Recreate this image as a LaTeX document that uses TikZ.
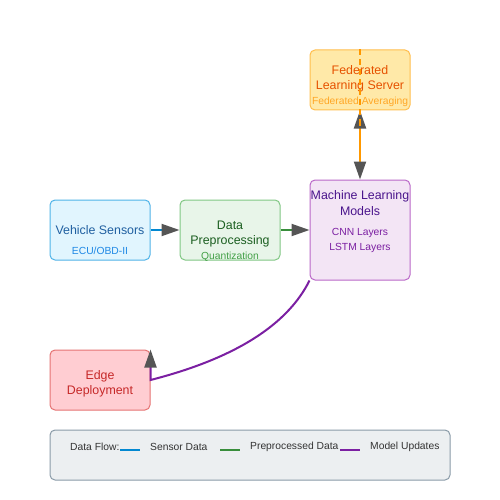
\documentclass[tikz,border=0pt]{standalone}
\usepackage{fontspec}
\setmainfont{Liberation Sans}
\usetikzlibrary{arrows.meta}
\definecolor{sensorFill}{HTML}{E1F5FE}
\definecolor{sensorLine}{HTML}{4FB3E8}
\definecolor{sensorText}{HTML}{1F5FA0}
\definecolor{sensorSub}{HTML}{1E88E5}
\definecolor{prepFill}{HTML}{E8F5E9}
\definecolor{prepLine}{HTML}{81C784}
\definecolor{prepText}{HTML}{1B5E20}
\definecolor{prepSub}{HTML}{43A047}
\definecolor{modelFill}{HTML}{F3E5F5}
\definecolor{modelLine}{HTML}{BA68C8}
\definecolor{modelText}{HTML}{4A148C}
\definecolor{modelSub}{HTML}{7B1FA2}
\definecolor{serverFill}{HTML}{FFE9A8}
\definecolor{serverLine}{HTML}{FFBE4D}
\definecolor{serverText}{HTML}{E65100}
\definecolor{serverSub}{HTML}{FFA726}
\definecolor{edgeFill}{HTML}{FFCDD2}
\definecolor{edgeLine}{HTML}{E57373}
\definecolor{edgeText}{HTML}{C62828}
\definecolor{legendFill}{HTML}{ECEFF1}
\definecolor{legendLine}{HTML}{8A9BA8}
\definecolor{legendText}{HTML}{333333}
\definecolor{flowBlue}{HTML}{0288D1}
\definecolor{flowGreen}{HTML}{388E3C}
\definecolor{flowPurple}{HTML}{7B1FA2}
\definecolor{flowOrange}{HTML}{FF9800}
\definecolor{tipGray}{HTML}{555555}
\tikzset{>={Triangle[length=18pt, width=12pt, color=tipGray]}}
\tikzstyle{block} = [rectangle, rounded corners = 5pt, line width = 1pt, minimum width = 100pt, minimum height = 60pt, inner sep = 0pt]
\tikzstyle{title} = [align = center, inner sep = 0pt, font = \fontsize{12.4}{15.5}\selectfont]
\tikzstyle{detail} = [align = center, inner sep = 0pt, font = \fontsize{10.3}{15}\selectfont]
\tikzstyle{legendLabel} = [anchor = west, inner sep = 0pt, text = legendText, font = \fontsize{10.3}{12}\selectfont]
\tikzstyle{flow} = [line width = 2pt]

\begin{document}
\begin{tikzpicture}[x = 1pt, y = -1pt, node distance = 130pt]
    \useasboundingbox [fill = white] (0,0) rectangle (500,500);

    \node (sensors) at (100,230) [block, fill = sensorFill, draw = sensorLine] {};
    \node (prep) [block, fill = prepFill, draw = prepLine, right of = sensors] {};
    \node (models) [block, fill = modelFill, draw = modelLine, minimum height = 100pt, right of = prep] {};
    \node (server) at (360,80) [block, fill = serverFill, draw = serverLine] {};
    \node (edge) at (100,380) [block, fill = edgeFill, draw = edgeLine] {};
    \node (legend) at (250,455) [block, fill = legendFill, draw = legendLine, minimum width = 400pt, minimum height = 50pt] {};

    \node (sensorsName) at (100,230) [title, text = sensorText] {Vehicle Sensors};
    \node (sensorsInfo) at (100,251) [detail, text = sensorSub] {ECU/OBD-II};
    \node (prepName) at (230,234) [title, text = prepText] {Data\\Preprocessing};
    \node (prepInfo) at (230,256.5) [detail, text = prepSub] {Quantization};
    \node (modelsName) at (360,203) [title, text = modelText] {Machine Learning\\Models};
    \node (modelsInfo) at (360,240) [detail, text = modelSub] {CNN Layers\\LSTM Layers};
    \node (serverName) at (360,79) [title, text = serverText] {Federated\\Learning Server};
    \node (serverInfo) at (360,101.5) [detail, text = serverSub] {Federated Averaging};
    \node (edgeName) at (100,384) [title, text = edgeText] {Edge\\Deployment};

    \draw [->, flow, flowBlue] (sensors) -- (prep);
    \draw [->, flow, flowGreen] (prep) -- (models);
    \draw [<->, flow, flowOrange] (server.south) -- (models.north);
    \coordinate (serverTail) at (360,128);
    \draw [flow, flowOrange, dash pattern = on 6pt off 4pt] (server.north) -- (serverTail);
    \draw [->, flow, flowPurple] (models.south west) .. controls (287.3,325.3) and (234,358.7) .. (edge.east) -- (edge.north east);

    \node (legendTitle) at (70,446.5) [legendLabel] {Data Flow:};
    \draw [flow, flowBlue] (120,450) -- (140,450);
    \node (legendSensor) at (150,446.5) [legendLabel] {Sensor Data};
    \draw [flow, flowGreen] (220,450) -- (240,450);
    \node (legendPrep) at (250,446.5) [legendLabel] {Preprocessed Data};
    \draw [flow, flowPurple] (340,450) -- (360,450);
    \node (legendModel) at (370,446.5) [legendLabel] {Model Updates};
\end{tikzpicture}
\end{document}
